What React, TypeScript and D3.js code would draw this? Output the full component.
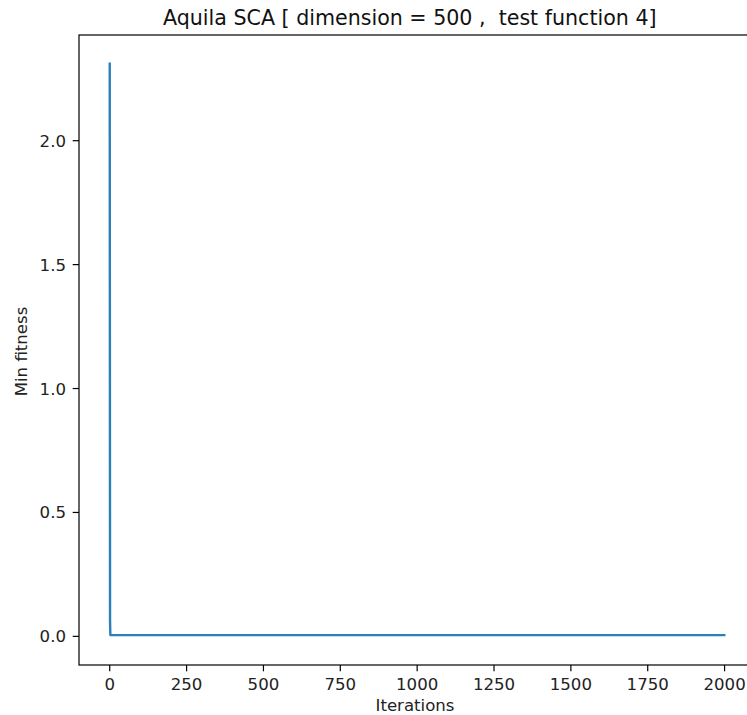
import React from "react";
import * as d3 from "d3";

const iterations = [0, 1, 2, 3, 1999];
const minFitness = [2.311, 0.063, 0.006, 0.005, 0.005];
const xTicks = [0, 250, 500, 750, 1000, 1250, 1500, 1750, 2000];
const yTicks = [0.0, 0.5, 1.0, 1.5, 2.0];
const title = "Aquila SCA [ dimension = 500 ,  test function 4]";

const W = 747, H = 715;
const M = { left: 79, top: 35, right: 755, bottom: 665 };

export default function App() {
  const xMin = 0, xMax = 1999;
  const xPad = (xMax - xMin) * 0.05;
  const yMin = 0, yMax = 2.311;
  const yPad = (yMax - yMin) * 0.05;
  const x = d3.scaleLinear().domain([xMin - xPad, xMax + xPad]).range([M.left, M.right]);
  const y = d3.scaleLinear().domain([yMin - yPad, yMax + yPad]).range([M.bottom, M.top]);
  const pts = iterations.map((it, i) => [it, minFitness[i]] as [number, number]);
  const line = d3.line<[number, number]>().x(d => x(d[0])).y(d => y(d[1]));
  const font = "'DejaVu Sans', sans-serif";
  const fs = 16.6;
  return (
    <svg width={W} height={H} style={{ position: "absolute", left: 0, top: 0, background: "#fff" }} fontFamily={font}>
      <rect x={0} y={0} width={W} height={H} fill="#fff" />
      <path d={line(pts) || ""} fill="none" stroke="#2a7fba" strokeWidth={2.4} strokeLinejoin="round" strokeLinecap="square" />
      <rect x={M.left} y={M.top} width={M.right - M.left} height={M.bottom - M.top} fill="none" stroke="#000" strokeWidth={1.2} />
      {xTicks.map(t => (
        <g key={"x" + t}>
          <line x1={x(t)} x2={x(t)} y1={M.bottom} y2={M.bottom + 6.3} stroke="#000" strokeWidth={1.2} />
          <text x={x(t)} y={690} textAnchor="middle" fontSize={fs} fill="#222">{t}</text>
        </g>
      ))}
      {yTicks.map(t => (
        <g key={"y" + t}>
          <line x1={M.left - 6.3} x2={M.left} y1={y(t)} y2={y(t)} stroke="#000" strokeWidth={1.2} />
          <text x={66} y={y(t)} dy="0.36em" textAnchor="end" fontSize={fs} fill="#222">{t.toFixed(1)}</text>
        </g>
      ))}
      <text x={163} y={24.5} textAnchor="start" fontSize={20.6} fill="#111" style={{ whiteSpace: "pre" }}>{title}</text>
      <text x={415} y={710.5} textAnchor="middle" fontSize={fs} fill="#222">Iterations</text>
      <text transform={`translate(26.5,351.5) rotate(-90)`} textAnchor="middle" fontSize={fs} fill="#222">Min fitness</text>
    </svg>
  );
}
